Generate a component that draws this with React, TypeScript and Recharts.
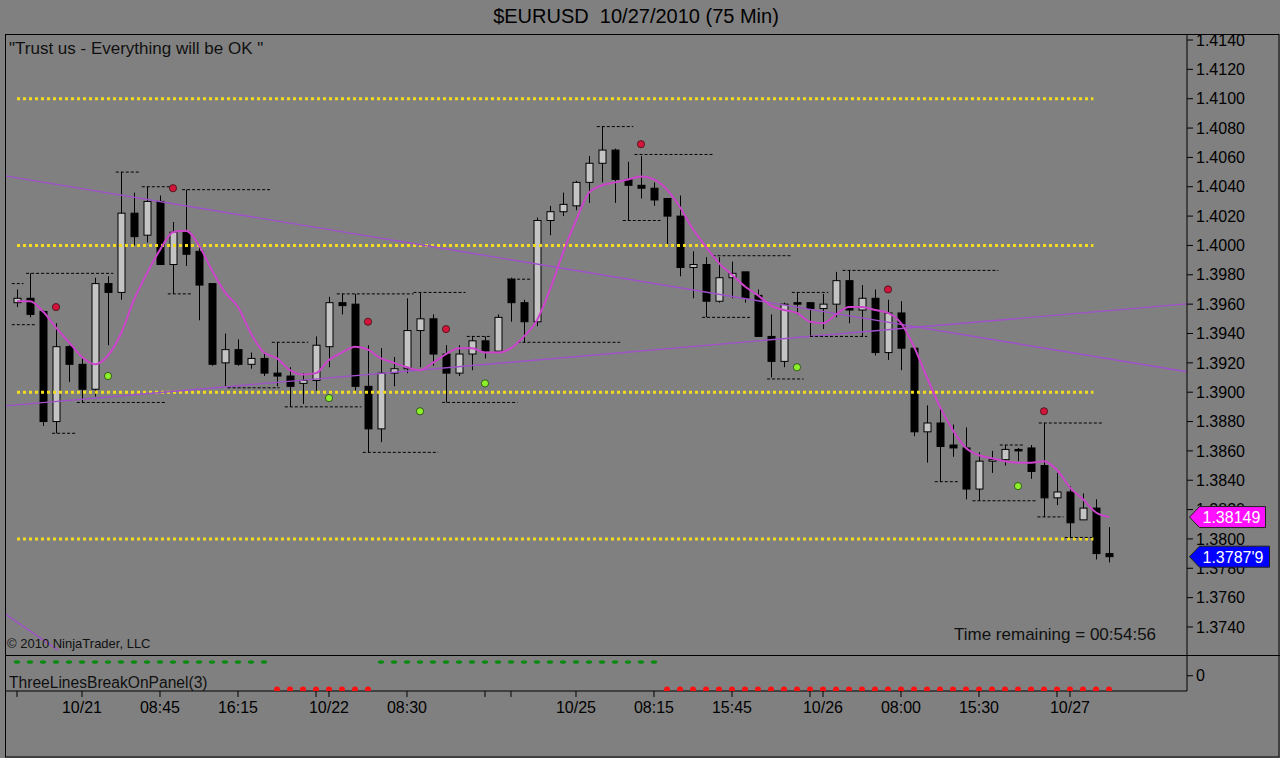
import React from 'react';
import { ComposedChart, Bar, Line, Scatter, XAxis, YAxis, ReferenceLine } from 'recharts';

// 75 min bars, $EURUSD 10/21 - 10/27/2010
const opens = [
  1.3961, 1.3964, 1.3955, 1.3880, 1.3931, 1.3919, 1.3902, 1.3974, 1.3968, 1.4022,
  1.4007, 1.4030, 1.3987, 1.4009, 1.3996, 1.3974, 1.3920, 1.3929, 1.3919, 1.3923,
  1.3913, 1.3911, 1.3906, 1.3908, 1.3931, 1.3961, 1.3960, 1.3904, 1.3875, 1.3913,
  1.3916, 1.3942, 1.3950, 1.3926, 1.3913, 1.3926, 1.3935, 1.3928, 1.3977, 1.3961,
  1.3948, 1.4017, 1.4023, 1.4027, 1.4043, 1.4056, 1.4065, 1.4045, 1.4041, 1.4039,
  1.4032, 1.4020, 1.3985, 1.3987, 1.3962, 1.3978, 1.3982, 1.3966, 1.3938, 1.3921,
  1.3961, 1.3961, 1.3957, 1.3960, 1.3976, 1.3956, 1.3964, 1.3927, 1.3954, 1.3930,
  1.3873, 1.3879, 1.3864, 1.3862, 1.3834, 1.3853, 1.3854, 1.3861, 1.3862, 1.3850,
  1.3828, 1.3832, 1.3813, 1.3821, 1.3790,
];
const highs = [
  1.3970, 1.3981, 1.3956, 1.3947, 1.3932, 1.3923, 1.3978, 1.3979, 1.4050, 1.4036,
  1.4040, 1.4034, 1.4016, 1.4038, 1.3999, 1.3974, 1.3940, 1.3936, 1.3927, 1.3927,
  1.3934, 1.3917, 1.3913, 1.3938, 1.3965, 1.3967, 1.3967, 1.3932, 1.3930, 1.3924,
  1.3964, 1.3968, 1.3953, 1.3932, 1.3932, 1.3938, 1.3938, 1.3953, 1.3978, 1.3963,
  1.4019, 1.4027, 1.4036, 1.4044, 1.4061, 1.4081, 1.4066, 1.4057, 1.4061, 1.4043,
  1.4032, 1.4034, 1.3996, 1.3992, 1.3992, 1.3989, 1.3982, 1.3970, 1.3953, 1.3961,
  1.3968, 1.3961, 1.3967, 1.3982, 1.3983, 1.3973, 1.3970, 1.3963, 1.3962, 1.3931,
  1.3891, 1.3889, 1.3878, 1.3876, 1.3859, 1.3860, 1.3864, 1.3862, 1.3864, 1.3879,
  1.3845, 1.3836, 1.3831, 1.3827, 1.3808,
];
const lows = [
  1.3958, 1.3951, 1.3877, 1.3872, 1.3907, 1.3893, 1.3897, 1.3932, 1.3963, 1.4000,
  1.4002, 1.3987, 1.3967, 1.3986, 1.3949, 1.3918, 1.3904, 1.3918, 1.3916, 1.3911,
  1.3904, 1.3890, 1.3892, 1.3901, 1.3917, 1.3953, 1.3901, 1.3859, 1.3866, 1.3904,
  1.3913, 1.3917, 1.3918, 1.3893, 1.3911, 1.3915, 1.3923, 1.3928, 1.3948, 1.3934,
  1.3945, 1.4007, 1.4020, 1.4024, 1.4029, 1.4043, 1.4029, 1.4017, 1.4032, 1.4027,
  1.4001, 1.3979, 1.3964, 1.3951, 1.3961, 1.3964, 1.3961, 1.3938, 1.3910, 1.3917,
  1.3953, 1.3938, 1.3943, 1.3951, 1.3947, 1.3938, 1.3925, 1.3922, 1.3915, 1.3870,
  1.3852, 1.3839, 1.3856, 1.3827, 1.3826, 1.3845, 1.3850, 1.3853, 1.3841, 1.3815,
  1.3823, 1.3801, 1.3813, 1.3786, 1.3784,
];
const closes = [
  1.3964, 1.3953, 1.3880, 1.3931, 1.3919, 1.3902, 1.3974, 1.3968, 1.4022, 1.4006,
  1.4030, 1.3987, 1.4009, 1.3994, 1.3973, 1.3919, 1.3929, 1.3919, 1.3923, 1.3913,
  1.3911, 1.3904, 1.3908, 1.3932, 1.3961, 1.3959, 1.3904, 1.3875, 1.3913, 1.3916,
  1.3942, 1.3950, 1.3926, 1.3913, 1.3926, 1.3935, 1.3928, 1.3951, 1.3961, 1.3948,
  1.4017, 1.4023, 1.4028, 1.4043, 1.4056, 1.4065, 1.4045, 1.4041, 1.4039, 1.4031,
  1.4020, 1.3985, 1.3987, 1.3962, 1.3978, 1.3981, 1.3964, 1.3938, 1.3921, 1.3960,
  1.3960, 1.3957, 1.3960, 1.3976, 1.3956, 1.3964, 1.3927, 1.3954, 1.3930, 1.3873,
  1.3879, 1.3863, 1.3862, 1.3834, 1.3853, 1.3854, 1.3861, 1.3860, 1.3846, 1.3828,
  1.3832, 1.3811, 1.3821, 1.3790, 1.37879,
];
// smoothed moving average (magenta)
const maValues = [
  1.3962, 1.3962, 1.3955, 1.3944, 1.3934, 1.3924, 1.3919, 1.3925, 1.3940, 1.3963,
  1.3981, 1.3997, 1.4009, 1.4010, 1.4000, 1.3983, 1.3968, 1.3958, 1.3940, 1.3927,
  1.3923, 1.3915, 1.3912, 1.3913, 1.3922, 1.3927, 1.3931, 1.3929, 1.3923, 1.3920,
  1.3917, 1.3915, 1.3920, 1.3926, 1.3930, 1.3930, 1.3927, 1.3927, 1.3930, 1.3938,
  1.3949, 1.3970, 1.3995, 1.4017, 1.4036, 1.4041, 1.4043, 1.4045, 1.4047, 1.4045,
  1.4038, 1.4026, 1.4011, 1.3999, 1.3988, 1.3980, 1.3972, 1.3966, 1.3959, 1.3956,
  1.3954, 1.3948, 1.3947, 1.3953, 1.3958, 1.3958, 1.3956, 1.3954, 1.3947, 1.3931,
  1.3910, 1.3890, 1.3874, 1.3862, 1.3857, 1.3855, 1.3853, 1.3852, 1.3852, 1.3853,
  1.3847, 1.3835, 1.3827, 1.3818, 1.38149,
];
// ThreeLinesBreakOnPanel(3): 1 = up (green), -1 = down (red)
const signal = [
  1, 1, 1, 1, 1, 1, 1, 1, 1, 1, 1, 1, 1, 1, 1, 1, 1, 1, 1, 1,
  -1, -1, -1, -1, -1, -1, -1, -1,
  1, 1, 1, 1, 1, 1, 1, 1, 1, 1, 1, 1, 1, 1, 1, 1, 1, 1, 1, 1, 1, 1,
  -1, -1, -1, -1, -1, -1, -1, -1, -1, -1, -1, -1, -1, -1, -1, -1, -1, -1, -1, -1,
  -1, -1, -1, -1, -1, -1, -1, -1, -1, -1, -1, -1, -1, -1, -1,
];
// dashed swing levels: [from bar, to bar, price]
const swingLines = [
  [-0.4, 0.5, 1.3974], [-0.4, 1.5, 1.3946], [0.7, 7.4, 1.3981], [7.6, 9.5, 1.405],
  [9.6, 11.8, 1.404], [12.7, 19.5, 1.4038], [11.6, 13.5, 1.3967], [2.7, 4.5, 1.3872],
  [4.6, 11.5, 1.3893], [16.2, 20.2, 1.3903], [19.6, 22.4, 1.3934], [20.6, 26.5, 1.389],
  [24.6, 30.5, 1.3967], [30.5, 34.5, 1.3968], [26.6, 32.4, 1.3859], [32.7, 38.5, 1.3893],
  [34.6, 36.4, 1.3938], [37.7, 39.5, 1.3977], [38.5, 46.4, 1.3934], [44.6, 47.4, 1.4081],
  [47.5, 53.5, 1.4062], [46.6, 49.5, 1.4017], [53.5, 59.5, 1.3993], [52.7, 56.4, 1.3951],
  [57.7, 60.5, 1.3909], [59.6, 62.4, 1.3968], [61, 65.4, 1.3938], [63.5, 75.5, 1.3983],
  [70.6, 72.4, 1.3839], [73.5, 78.5, 1.3826], [75.6, 77.4, 1.3864], [78.6, 83.5, 1.3879],
  [78.5, 80.5, 1.3815], [80.6, 82.7, 1.3801],
];
// trend lines: [bar1, price1, bar2, price2]
const trendLines = [
  [-0.923, 1.40474, 90, 1.39139],
  [-0.923, 1.38907, 90, 1.39602],
  [-0.923, 1.37489, 3.15, 1.37243],
];
const levelLines = [1.41, 1.4, 1.39, 1.38];
const levelFrom = 0;
const levelTo = 82.8;
const highDots = [[3, 1.3958], [12, 1.4039], [27, 1.3948], [33, 1.3943], [48, 1.4069], [67, 1.397], [79, 1.3887]];
const lowDots = [[7, 1.3911], [24, 1.3896], [31, 1.3887], [36, 1.3906], [60, 1.3917], [77, 1.3836]];
const priceTicks = [1.374, 1.376, 1.378, 1.38, 1.382, 1.384, 1.386, 1.388, 1.39, 1.392, 1.394, 1.396, 1.398, 1.4, 1.402, 1.404, 1.406, 1.408, 1.41, 1.412, 1.414];
const timeTickIdx = [0, 5, 11, 17, 23, 24, 30, 36, 38, 43, 49, 55, 61, 62, 68, 74, 80, 81];
const timeTickText = ['', '10/21', '08:45', '16:15', '', '10/22', '08:30', '', '', '10/25', '08:15', '15:45', '', '10/26', '08:00', '15:30', '', '10/27'];

const X_DOMAIN: [number, number] = [-0.923, 90];
const P_DOMAIN: [number, number] = [1.37209, 1.41441];
const FONT = '"Liberation Sans", Arial, sans-serif';

const candles = opens.map((o, i) => ({
  i,
  open: o,
  high: highs[i],
  low: lows[i],
  close: closes[i],
  ma: maValues[i],
}));
const greenPts = signal.map((s, i) => ({ i, s })).filter((d) => d.s > 0);
const redPts = signal.map((s, i) => ({ i, s })).filter((d) => d.s < 0);

function Candle(props: any) {
  const { x, width, payload } = props;
  let { y, height } = props;
  if (height < 0) {
    y += height;
    height = -height;
  }
  const { open, close, high, low } = payload;
  const range = high - low;
  const py = (p: number) => (range === 0 ? y : y + ((high - p) / range) * height);
  const cx = Math.round(x + width / 2) + 0.5;
  const top = py(Math.max(open, close));
  const bot = py(Math.min(open, close));
  const up = close >= open;
  return (
    <g>
      <line x1={cx} x2={cx} y1={y} y2={y + height} stroke="#000" strokeWidth={1} />
      <rect
        x={cx - 3.5}
        y={top}
        width={7}
        height={Math.max(bot - top, 1.5)}
        fill={up ? '#c4c4c4' : '#000'}
        stroke="#000"
        strokeWidth={1}
      />
    </g>
  );
}

function RedDot({ cx, cy }: any) {
  return <circle cx={cx} cy={cy} r={3.6} fill="#d4143c" stroke="#3a1010" strokeWidth={0.8} />;
}
function GreenDot({ cx, cy }: any) {
  return <circle cx={cx} cy={cy} r={3.6} fill="#8cf02a" stroke="#204010" strokeWidth={0.8} />;
}
function GreenDash({ cx, cy }: any) {
  return <ellipse cx={cx} cy={cy} rx={3.2} ry={1.8} fill="#0a8a10" />;
}
function RedSpot({ cx, cy }: any) {
  return <circle cx={cx} cy={cy} r={3} fill="#ff1010" />;
}

function PriceTag({ viewBox, text, fill, w }: any) {
  if (!viewBox) return null;
  const x = viewBox.x + viewBox.width + 2.5;
  const y = viewBox.y;
  const h = 10.5;
  const pts = `${x},${y} ${x + 10},${y - h} ${x + w},${y - h} ${x + w},${y + h} ${x + 10},${y + h}`;
  return (
    <g>
      <polygon points={pts} fill={fill} stroke="#202020" strokeWidth={1} />
      <text x={x + 13} y={y + 6} fill="#fff" fontSize={16} fontFamily={FONT}>
        {text}
      </text>
    </g>
  );
}

const lastClose = closes[closes.length - 1];
const lastMa = maValues[maValues.length - 1];
const closeText = (() => {
  const s = lastClose.toFixed(5);
  return s.slice(0, 6) + "'" + s.slice(6);
})();

export default function App() {
  const abs: React.CSSProperties = { position: 'absolute', left: 0, top: 0 };
  return (
    <div style={{ position: 'absolute', left: 0, top: 0, width: 1280, height: 758, background: '#808080', overflow: 'hidden', fontFamily: FONT }}>
      <div style={abs}>
        <ComposedChart width={1280} height={758} data={candles} margin={{ top: 34, right: 0, bottom: 103, left: 5 }}>
          <XAxis dataKey="i" type="number" domain={X_DOMAIN} allowDataOverflow hide />
          <YAxis
            orientation="right"
            type="number"
            domain={P_DOMAIN}
            allowDataOverflow
            ticks={priceTicks}
            interval={0}
            width={93}
            tickSize={6}
            tickMargin={3}
            tickFormatter={(v: number) => v.toFixed(4)}
            tick={{ fill: '#000', fontSize: 16, fontFamily: FONT }}
            axisLine={{ stroke: '#000' }}
            tickLine={{ stroke: '#000' }}
          />
          {levelLines.map((p) => (
            <ReferenceLine
              key={'lv' + p}
              segment={[{ x: levelFrom, y: p }, { x: levelTo, y: p }]}
              stroke="#f2dc1e"
              strokeWidth={3}
              strokeDasharray="3 3"
            />
          ))}
          {trendLines.map((t, k) => (
            <ReferenceLine
              key={'tl' + k}
              segment={[{ x: t[0], y: t[1] }, { x: t[2], y: t[3] }]}
              stroke="#a050cc"
              strokeWidth={1.4}
              ifOverflow="hidden"
            />
          ))}
          {swingLines.map((s, k) => (
            <ReferenceLine
              key={'sw' + k}
              segment={[{ x: s[0], y: s[2] }, { x: s[1], y: s[2] }]}
              stroke="#000"
              strokeWidth={1}
              strokeDasharray="3 2"
            />
          ))}
          <Bar dataKey={(d: any) => [d.low, d.high]} barSize={7} shape={<Candle />} isAnimationActive={false} />
          <Line dataKey="ma" type="monotone" stroke="#cc44cc" strokeWidth={2} dot={false} activeDot={false} isAnimationActive={false} />
          <Scatter data={highDots.map(([i, p]) => ({ i, p }))} dataKey="p" shape={<RedDot />} isAnimationActive={false} />
          <Scatter data={lowDots.map(([i, p]) => ({ i, p }))} dataKey="p" shape={<GreenDot />} isAnimationActive={false} />
        </ComposedChart>
      </div>
      <div style={abs}>
        <ComposedChart width={1280} height={758} data={signal.map((s, i) => ({ i, s }))} margin={{ top: 655, right: 0, bottom: 27, left: 5 }}>
          <XAxis
            dataKey="i"
            type="number"
            domain={X_DOMAIN}
            allowDataOverflow
            ticks={timeTickIdx}
            interval={0}
            height={40}
            tickSize={6}
            tickMargin={5}
            tickFormatter={(v: number) => timeTickText[timeTickIdx.indexOf(v)] ?? ''}
            tick={{ fill: '#000', fontSize: 16, fontFamily: FONT }}
            axisLine={{ stroke: '#000' }}
            tickLine={{ stroke: '#000' }}
          />
          <YAxis
            orientation="right"
            type="number"
            domain={[-1.109, 1.509]}
            allowDataOverflow
            ticks={[0]}
            width={93}
            tickSize={6}
            tickMargin={3}
            tick={{ fill: '#000', fontSize: 16, fontFamily: FONT }}
            axisLine={{ stroke: '#000' }}
            tickLine={{ stroke: '#000' }}
          />
          <Scatter data={greenPts} dataKey="s" shape={<GreenDash />} isAnimationActive={false} />
          <Scatter data={redPts} dataKey="s" shape={<RedSpot />} isAnimationActive={false} />
        </ComposedChart>
      </div>
      {/* price tags drawn on top of the axis labels */}
      <div style={abs}>
        <ComposedChart width={1280} height={758} data={candles} margin={{ top: 34, right: 93, bottom: 103, left: 5 }}>
          <XAxis dataKey="i" type="number" domain={X_DOMAIN} allowDataOverflow hide />
          <YAxis type="number" domain={P_DOMAIN} allowDataOverflow hide />
          <ReferenceLine y={lastMa} stroke="none" label={<PriceTag text={lastMa.toFixed(5)} fill="#ff10ff" w={76} />} />
          <ReferenceLine y={lastClose} stroke="none" label={<PriceTag text={closeText} fill="#0000ff" w={80} />} />
        </ComposedChart>
      </div>
      <svg width={1280} height={758} style={{ ...abs, pointerEvents: 'none' }}>
        <rect x={5.5} y={34.5} width={1273.5} height={722.5} fill="none" stroke="#000" />
        <line x1={5} x2={1280} y1={655.5} y2={655.5} stroke="#000" />
        <text x={636} y={23} textAnchor="middle" fontSize={20} fill="#000" fontFamily={FONT} style={{ whiteSpace: 'pre' }}>
          {'$EURUSD  10/27/2010 (75 Min)'}
        </text>
        <text x={9} y={54} fontSize={17} fill="#101010" fontFamily={FONT}>
          {'"Trust us - Everything will be OK "'}
        </text>
        <text x={7} y={648} fontSize={13} fill="#101010" fontFamily={FONT}>
          © 2010 NinjaTrader, LLC
        </text>
        <text x={954} y={640} fontSize={17} fill="#101010" fontFamily={FONT}>
          Time remaining = 00:54:56
        </text>
        <text x={9} y={688} fontSize={15.6} fill="#101010" fontFamily={FONT}>
          ThreeLinesBreakOnPanel(3)
        </text>
      </svg>
    </div>
  );
}
